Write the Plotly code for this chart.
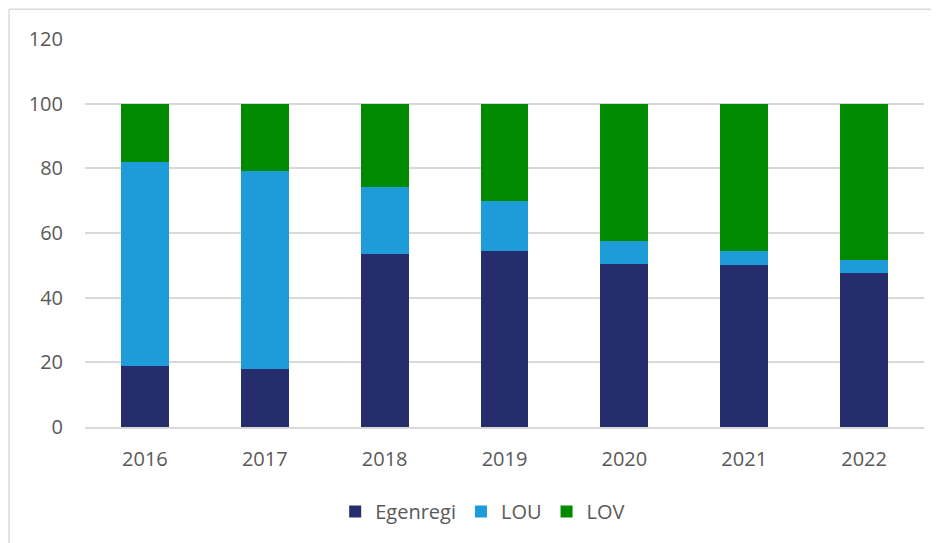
import plotly.graph_objects as go

years = ["2016", "2017", "2018", "2019", "2020", "2021", "2022"]
egenregi = [18.9, 17.9, 53.6, 54.5, 50.5, 50.1, 47.6]
lou = [63.0, 61.3, 20.6, 15.4, 7.0, 4.3, 4.0]
lov = [18.1, 20.8, 25.8, 30.1, 42.5, 45.6, 48.4]
y_ticks = [0, 20, 40, 60, 80, 100, 120]

fig = go.Figure()
fig.add_trace(go.Bar(x=years, y=egenregi, name="Egenregi", marker_color="#252D6C", marker_line_width=0))
fig.add_trace(go.Bar(x=years, y=lou, name="LOU", marker_color="#1E9CD9", marker_line_width=0))
fig.add_trace(go.Bar(x=years, y=lov, name="LOV", marker_color="#008A00", marker_line_width=0))

font = dict(family="Open Sans, sans-serif", size=20, color="#595959")

fig.update_layout(
    barmode="stack",
    bargap=0.6,
    width=939, height=543,
    margin=dict(l=77, r=23, t=31, b=124),
    paper_bgcolor="white", plot_bgcolor="white",
    font=font,
    showlegend=True,
    legend=dict(orientation="h", x=0.474, xanchor="center", y=-0.218, yanchor="middle",
                font=font, traceorder="normal", itemwidth=30),
    xaxis=dict(showgrid=False, showline=True, linecolor="#d9d9d9", linewidth=1.5,
               tickfont=font, ticklabelstandoff=13),
    yaxis=dict(range=[0, 120], tickvals=y_ticks, showgrid=True, gridcolor="#d9d9d9",
               gridwidth=1.5, zeroline=False, showline=False, tickfont=font,
               ticklabelstandoff=21),
    shapes=[
        dict(type="line", xref="paper", yref="paper", x0=-0.0906, x1=-0.0906, y0=-0.35, y1=1.0765,
             line=dict(color="#d9d9d9", width=1.5)),
        dict(type="line", xref="paper", yref="paper", x0=-0.0906, x1=1.05, y0=1.0765, y1=1.0765,
             line=dict(color="#d9d9d9", width=1.5)),
    ],
)

fig.write_html("out.html")
